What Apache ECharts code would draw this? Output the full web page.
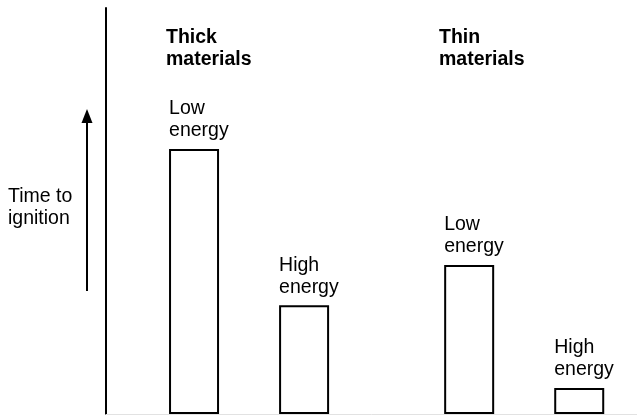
<!DOCTYPE html>
<html>
<head>
<meta charset="utf-8">
<script src="https://cdn.jsdelivr.net/npm/echarts@6/dist/echarts.min.js"></script>
<style>
  html, body { margin: 0; padding: 0; background: #fff; }
  #chart { width: 637px; height: 415px; }
</style>
</head>
<body>
<div id="chart"></div>
<script>
// bar positions along x (1 unit = spacing between bars of a pair / 2)
var barPositions = [1, 3, 6, 8];
// relative time to ignition (y max = 100)
var ignitionTimes = [65.3, 26.8, 36.7, 6.4];
var barLabels = ["Low\nenergy", "High\nenergy", "Low\nenergy", "High\nenergy"];
var groupTitles = ["Thick\nmaterials", "Thin\nmaterials"];
var yAxisTitle = "Time to\nignition";

var fontFamily = '"Liberation Sans", Arial, Helvetica, sans-serif';

var chart = echarts.init(document.getElementById('chart'));

var barData = barPositions.map((x, i) => [x, ignitionTimes[i]]);

var option = {
    backgroundColor: '#fff',
    animation: false,
    grid: {
        left: 106,
        right: 0,
        top: 8,
        bottom: 1
    },
    xAxis: {
        type: 'value',
        min: -0.6,
        max: 9.05,
        axisLine: { show: true, lineStyle: { color: '#e2e2e2', width: 1 } },
        axisTick: { show: false },
        axisLabel: { show: false },
        splitLine: { show: false }
    },
    yAxis: {
        type: 'value',
        min: 0,
        max: 100,
        axisLine: { show: true, onZero: false, lineStyle: { color: '#000', width: 2 } },
        axisTick: { show: false },
        axisLabel: { show: false },
        splitLine: { show: false }
    },
    series: [
        {
            type: 'bar',
            data: barData,
            barWidth: 50,
            itemStyle: {
                color: '#fff',
                borderColor: '#000',
                borderWidth: 2
            },
            label: {
                show: true,
                position: [0, -7],
                align: 'left',
                verticalAlign: 'bottom',
                formatter: (p) => barLabels[p.dataIndex],
                color: '#000',
                fontSize: 19.5,
                lineHeight: 22,
                fontFamily: fontFamily
            },
            emphasis: { disabled: true }
        }
    ],
    graphic: [
        {
            type: 'text',
            left: 8,
            top: 186,
            style: {
                text: yAxisTitle,
                fill: '#000',
                font: '19.5px ' + fontFamily,
                lineHeight: 22
            }
        },
        {
            type: 'text',
            left: 166,
            top: 27,
            style: {
                text: groupTitles[0],
                fill: '#000',
                font: 'bold 19.5px ' + fontFamily,
                lineHeight: 22
            }
        },
        {
            type: 'text',
            left: 439,
            top: 27,
            style: {
                text: groupTitles[1],
                fill: '#000',
                font: 'bold 19.5px ' + fontFamily,
                lineHeight: 22
            }
        },
        // upward arrow next to the y axis
        {
            type: 'line',
            shape: { x1: 87, y1: 291, x2: 87, y2: 118 },
            style: { stroke: '#000', lineWidth: 2 }
        },
        {
            type: 'polygon',
            shape: { points: [[87, 109], [81.5, 123], [92.5, 123]] },
            style: { fill: '#000' }
        }
    ]
};

chart.setOption(option);
</script>
</body>
</html>
